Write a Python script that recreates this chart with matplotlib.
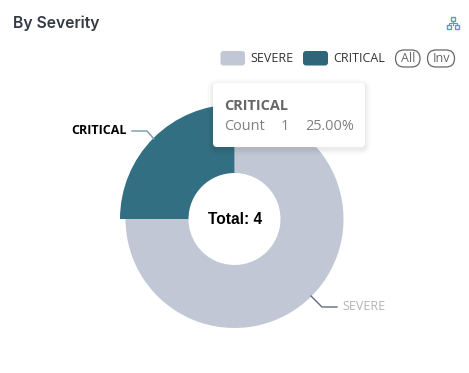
import matplotlib
matplotlib.use("Agg")
import matplotlib.pyplot as plt
from matplotlib.patches import FancyBboxPatch, Rectangle

categories = ["SEVERE", "CRITICAL"]
counts = [3, 1]
total = sum(counts)
percents = [c / total * 100 for c in counts]

W, H = 469, 373
SEVERE_COLOR = "#c1c7d5"
CRITICAL_COLOR = "#336f82"
FONT = "Open Sans"


def Y(py):
    # pixel rows count from the top, the axes from the bottom
    return H - py


def px(size):
    return size * 72 / 100


def box(x0, y0, x1, y1, rad, **kw):
    p = FancyBboxPatch((x0 + rad, Y(y1) + rad), x1 - x0 - 2 * rad, y1 - y0 - 2 * rad,
                       boxstyle=f"round,pad={rad},rounding_size={rad}", **kw)
    ax.add_patch(p)
    return p


fig = plt.figure(figsize=(W / 100, H / 100), dpi=100)
ax = fig.add_axes([0, 0, 1, 1])

# ======================== donut ========================== #
wedges, _ = ax.pie(counts, colors=[SEVERE_COLOR, CRITICAL_COLOR], startangle=90, counterclock=False,
                   center=(234.5, Y(219)), radius=109, wedgeprops=dict(width=63, linewidth=0))
wedges[1].set_radius(114.5)
wedges[1].set_width(68.5)
ax.set_xlim(0, W)
ax.set_ylim(0, H)
ax.axis("off")

ax.text(235, Y(219), f"Total: {total}", ha="center", va="center", color="black",
        fontsize=px(15.5), fontweight="bold", family="Liberation Sans")

# ======================== labels ========================== #
ax.plot([132, 147, 154], [Y(131), Y(131), Y(139)], color="#6f9aa8", lw=1, zorder=3)
ax.text(127, Y(131), categories[1], ha="right", va="center", color="black",
        fontsize=px(12.5), fontweight="bold", family=FONT)
ax.plot([311, 322, 337], [Y(296), Y(307), Y(307)], color="#5f6b85", lw=1, zorder=3)
ax.text(342, Y(306), categories[0], ha="left", va="center", color="#b4b4b4",
        fontsize=px(12.5), family=FONT)

# ======================== title ========================== #
ax.text(13, Y(23.5), "By Severity", ha="left", va="center", color="#333a44",
        fontsize=px(15.7), fontweight="semibold", family="Inter")

# ======================== legend ========================== #
box(220.5, 51, 245, 65.5, 3, fc=SEVERE_COLOR, ec="none")
ax.text(250.5, Y(58), categories[0], ha="left", va="center", color="#333333", fontsize=px(12.5), family=FONT)
box(303, 51, 328, 65.5, 3, fc="#2e6578", ec="none")
ax.text(333.5, Y(58), categories[1], ha="left", va="center", color="#333333", fontsize=px(12.5), family=FONT)

for x0, x1, txt in [(395.5, 420, "All"), (427.5, 454.5, "Inv")]:
    box(x0, 50, x1, 67, 8.5, fc="white", ec="#666666", lw=0.9)
    ax.text((x0 + x1) / 2, Y(58), txt, ha="center", va="center", color="#666666", fontsize=px(12.5), family=FONT)

# ======================== tooltip ========================== #
for grow, alpha in [(6, 0.012), (4.5, 0.015), (3, 0.02), (1.5, 0.03)]:
    box(213 - grow, 83 - grow + 2, 365 + grow, 147 + grow + 2, 4 + grow, fc="black", ec="none", alpha=alpha, zorder=4)
box(213, 83, 365, 147, 4, fc="white", ec="none", zorder=5)
ax.text(224, Y(105.5), categories[1], ha="left", va="center", color="#666666",
        fontsize=px(14.5), fontweight="bold", family=FONT, zorder=6)
ax.text(224, Y(127), "Count", ha="left", va="center", color="#808080", fontsize=px(14.5), family=FONT, zorder=6)
ax.text(281, Y(127), f"{counts[1]}", ha="left", va="center", color="#808080", fontsize=px(14.5), family=FONT, zorder=6)
ax.text(354, Y(127), f"{percents[1]:.2f}%", ha="right", va="center", color="#808080", fontsize=px(14.5), family=FONT, zorder=6)

# ======================== tree icon ========================== #
ICON = "#45a5d0"
for x, y in [(450.5, 17), (447, 25), (454.5, 25)]:
    ax.add_patch(Rectangle((x, Y(y + 4)), 4, 4, fc="none", ec=ICON, lw=1))
ax.plot([452.5, 452.5], [Y(21), Y(25)], color=ICON, lw=0.8)
ax.plot([449, 449, 456.5, 456.5], [Y(25), Y(23), Y(23), Y(25)], color=ICON, lw=0.8)

fig.savefig("out.png", dpi=100, facecolor="white")
